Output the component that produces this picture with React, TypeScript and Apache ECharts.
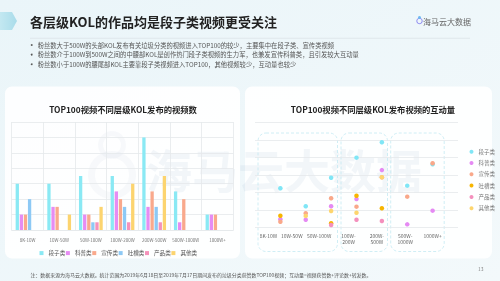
import React, { useEffect, useRef } from "react";
import * as echarts from "echarts";

const CATEGORIES = ["8K-10W", "10W-50W", "50W-100W", "100W-200W", "200W-500W", "500W-1000W", "1000W+"];
const SCATTER_LABELS = ["8K-10W", "10W-50W", "50W-100W", "100W-\n200W", "200W-\n500W", "500W-\n1000W", "1000W+"];
const TYPES = ["段子类", "科普类", "宣传类", "吐槽类", "产品类", "其他类"];

// video counts per tier (bar chart)
const COUNT_DUANZI = [6, 6, 7, 7, 12, 5, 2];
const COUNT_KEPU = [2, 3, 2, 5, 3, 1, 2];
const COUNT_XUANCHUAN = [2, 3, 2, 4, 5, 4, 2];
const COUNT_TUCAO = [4, 0, 1, 3, 3, 0, 0];
const COUNT_CHANPIN = [0, 0, 1, 1, 1, 0, 0];
const COUNT_QITA = [0, 2, 3, 6, 7, 0, 0];

// interaction (relative units, scatter chart)
const INT_DUANZI = [2.23, 1.2, 2.83, 3.98, 4.86, 2.38, 3.6];
const INT_KEPU = [0.46, 0.43, 1.2, 1.62, 3.27, 0.17, 0.95];
const INT_XUANCHUAN = [0.32, 0.8, 1.66, 1.18, 2.86, 1.75, 3.66];
const INT_TUCAO = [0.66, null, 0.23, 1.8, 1.09, null, null];
const INT_CHANPIN = [null, null, 0.13, 0.43, 0.36, null, null];
const INT_QITA = [null, 0.65, 0.93, 0.83, 2.86, null, null];

const BAR_Y_TICKS_MAX = 14;
const SCATTER_Y_MAX = 6;

const COUNTS = [COUNT_DUANZI, COUNT_KEPU, COUNT_XUANCHUAN, COUNT_TUCAO, COUNT_CHANPIN, COUNT_QITA];
const INTS = [INT_DUANZI, INT_KEPU, INT_XUANCHUAN, INT_TUCAO, INT_CHANPIN, INT_QITA];

const BAR_COLORS = ["#8ae9f4", "#e68cf3", "#f9a98c", "#8dc9f5", "#f592ba", "#fcd46f"];
const DOT_COLORS = ["#80e6f6", "#e58af3", "#f9a88a", "#f7b500", "#f490bd", "#fdd56e"];

const TITLE = "各层级KOL的作品均是段子类视频更受关注";
const BULLETS = [
  "粉丝数大于500W的头部KOL发布有关垃圾分类的视频进入TOP100的较少，主要集中在段子类、宣传类视频",
  "粉丝数介于100W到500W之间的中腰部KOL是创作热门段子类视频的生力军，也兼发宣传科普类，且引发较大互动量",
  "粉丝数小于100W的腰尾部KOL主要靠段子类视频进入TOP100，其他视频较少，互动量也较少",
];
const NOTE = "注：数据来源为海马云大数据。统计范围为2019年6月18日至2019年7月17日期间发布的垃圾分类获赞数TOP100视频；互动量=视频获赞数+评论数+转发数。";
const CHART1_TITLE = "TOP100视频不同层级KOL发布的视频数";
const CHART2_TITLE = "TOP100视频不同层级KOL发布视频的互动量";
const PREFIX = "互动-";

const FONT = "'Noto Sans CJK SC', 'Noto Sans', sans-serif";
const LABEL_SHIFT = [24, 28, 24, 16, 10, 4, 0];

export default function App() {
  const ref = useRef<HTMLDivElement>(null);
  useEffect(() => {
    if (!ref.current) return;
    const chart = echarts.init(ref.current, undefined, { renderer: "svg" });
    const rich: any = {};
    LABEL_SHIFT.forEach((p, i) => {
      rich["p" + i] = { fontSize: 5, color: "#666", padding: [0, p, 0, 0], lineHeight: 6, fontFamily: FONT };
    });
    const graphic: any[] = [
      {
        type: "rect", z: -20, silent: true,
        shape: { x: 0, y: 0, width: 500, height: 281 },
        style: {
          fill: new echarts.graphic.LinearGradient(0, 0, 1, 1, [
            { offset: 0, color: "#eaf5f9" },
            { offset: 1, color: "#f3f9fb" },
          ]),
        },
      },
      {
        type: "polygon", z: -10,
        shape: { points: [[0, 12], [12, 12], [17, 21], [12, 30], [0, 30]] },
        style: {
          fill: new echarts.graphic.LinearGradient(0, 0, 1, 0, [
            { offset: 0, color: "#c3e8f1" },
            { offset: 1, color: "#a9dcea" },
          ]),
        },
      },
      { type: "text", z: 1, x: 30, y: 21, style: { text: TITLE, fontSize: 13, fontWeight: "bold", fill: "#222", fontFamily: FONT, verticalAlign: "middle" } },
      { type: "line", z: 1, shape: { x1: 30, y1: 38.3, x2: 470, y2: 38.3 }, style: { stroke: "#dde5ea", lineWidth: 0.8 } },
      // logo
      { type: "ring", z: 1, shape: { cx: 419.5, cy: 21, r: 3.2, r0: 2.2 }, style: { fill: "#8f8df0" } },
      { type: "circle", z: 1, shape: { cx: 419.5, cy: 17.5, r: 1.5 }, style: { fill: "#6fb8f0" } },
      { type: "text", z: 1, x: 423, y: 21, style: { text: "海马云大数据", fontSize: 8, fill: "#666", fontFamily: FONT, verticalAlign: "middle" } },
      // cards
      { type: "rect", z: -10, shape: { x: 5, y: 86.5, width: 235, height: 172, r: 7 }, style: { fill: "rgba(255,255,255,0.9)" } },
      { type: "rect", z: -10, shape: { x: 245, y: 86.5, width: 247, height: 172, r: 7 }, style: { fill: "rgba(255,255,255,0.9)" } },
      // watermark
      { type: "text", z: -5, x: 146, y: 168, style: { text: "海马云大数据", fontSize: 46, fontWeight: "bold", fill: "rgba(150,175,200,0.11)", fontFamily: FONT, verticalAlign: "middle" } },
      { type: "ring", z: -5, shape: { cx: 112, cy: 175, r: 24, r0: 17 }, style: { fill: "rgba(150,175,200,0.07)" } },
      { type: "ring", z: -5, shape: { cx: 112, cy: 145, r: 14, r0: 9 }, style: { fill: "rgba(150,175,200,0.07)" } },
      // chart titles
      { type: "text", z: 1, x: 123, y: 109, style: { text: CHART1_TITLE, fontSize: 8.3, fontWeight: "bold", fill: "#222", fontFamily: FONT, align: "center", verticalAlign: "middle" } },
      { type: "text", z: 1, x: 373, y: 109, style: { text: CHART2_TITLE, fontSize: 8.3, fontWeight: "bold", fill: "#222", fontFamily: FONT, align: "center", verticalAlign: "middle" } },
      // dashed group boxes
      { type: "rect", z: -4, shape: { x: 258, y: 133, width: 79.5, height: 118.5, r: 8 }, style: { fill: "none", stroke: "#c4eaf2", lineWidth: 0.8, lineDash: [3, 2] } },
      { type: "rect", z: -4, shape: { x: 341, y: 133, width: 46.5, height: 118.5, r: 8 }, style: { fill: "none", stroke: "#c4eaf2", lineWidth: 0.8, lineDash: [3, 2] } },
      { type: "rect", z: -4, shape: { x: 390.7, y: 133, width: 53.5, height: 118.5, r: 8 }, style: { fill: "none", stroke: "#c4eaf2", lineWidth: 0.8, lineDash: [3, 2] } },
      // footnote
      { type: "text", z: 1, x: 30.5, y: 274.3, style: { text: NOTE, fontSize: 4.95, fill: "#555", fontFamily: FONT, verticalAlign: "middle" } },
      { type: "text", z: 1, x: 478, y: 268.3, style: { text: "13", fontSize: 5, fill: "#888", fontFamily: FONT, verticalAlign: "middle" } },
    ];
    BULLETS.forEach((b, i) => {
      const y = 45 + i * 9.6;
      graphic.push({ type: "circle", z: 1, shape: { cx: 31.7, cy: y, r: 0.9 }, style: { fill: "#555" } });
      graphic.push({ type: "text", z: 1, x: 37.7, y, style: { text: b, fontSize: 6.3, fill: "#555", fontFamily: FONT, verticalAlign: "middle" } });
    });

    const gridLine = { lineStyle: { color: "#e4e8eb", width: 0.8 } };

    const series: any[] = [];
    TYPES.forEach((t, k) => {
      series.push({
        type: "bar", name: t, xAxisIndex: 0, yAxisIndex: 0,
        data: COUNTS[k], barWidth: 3.3, barGap: "24%",
        itemStyle: { color: BAR_COLORS[k] },
      });
    });
    TYPES.forEach((t, k) => {
      const d: any[] = [];
      INTS[k].forEach((v, i) => { if (v != null) d.push([i + 1, v]); });
      series.push({
        type: "scatter", name: PREFIX + t, xAxisIndex: 1, yAxisIndex: 1,
        data: d, symbolSize: 4.5, itemStyle: { color: DOT_COLORS[k], opacity: 1 },
      });
    });

    chart.setOption({
      animation: false,
      textStyle: { fontFamily: FONT },
      graphic,
      grid: [
        { left: 11.7, right: 266.7, top: 122, bottom: 51 },
        { left: 255, right: 42, top: 122.3, bottom: 53.7 },
      ],
      xAxis: [
        {
          type: "category", gridIndex: 0, data: CATEGORIES,
          axisTick: { show: false },
          axisLine: { show: true, lineStyle: { color: "#e4e8eb", width: 0.8 } },
          axisLabel: { fontSize: 4.5, color: "#777", margin: 7.5, interval: 0 },
          splitLine: { show: true, interval: 0, ...gridLine },
        },
        {
          type: "value", gridIndex: 1, min: 0, max: 8, interval: 1,
          axisTick: { show: false },
          axisLine: { show: false },
          splitLine: { show: false },
          axisLabel: {
            margin: 5, fontSize: 5, color: "#666", rich,
            formatter: (v: number) => {
              const i = Math.round(v) - 1;
              if (i < 0 || i >= SCATTER_LABELS.length) return "";
              return SCATTER_LABELS[i].split("\n").map((l) => `{p${i}|${l}}`).join("\n");
            },
          },
        },
      ],
      yAxis: [
        {
          type: "value", gridIndex: 0, min: 0, max: BAR_Y_TICKS_MAX, interval: 2,
          axisLabel: { show: false }, axisLine: { show: false }, axisTick: { show: false },
          splitLine: { show: true, ...gridLine },
        },
        {
          type: "value", gridIndex: 1, min: 0, max: SCATTER_Y_MAX, interval: 1,
          axisLabel: { show: false }, axisLine: { show: false }, axisTick: { show: false },
          splitLine: { show: true, ...gridLine },
        },
      ],
      legend: [
        {
          data: TYPES, left: 34.5, top: 245.3, itemWidth: 4, itemHeight: 4, itemGap: 0.6,
          icon: "rect", textStyle: { fontSize: 5.6, color: "#555", fontFamily: FONT },
          selectedMode: false,
        },
        {
          data: TYPES.map((t) => PREFIX + t), orient: "vertical", left: 464.5, top: 143.7,
          itemWidth: 4, itemHeight: 4, itemGap: 5.3, icon: "circle",
          textStyle: { fontSize: 5.5, color: "#777", lineHeight: 6, fontFamily: FONT },
          formatter: (n: string) => n.replace(PREFIX, ""),
          selectedMode: false,
        },
      ],
      series,
    });
    return () => chart.dispose();
  }, []);
  return <div ref={ref} style={{ position: "fixed", left: 0, top: 0, width: 500, height: 281 }} />;
}
